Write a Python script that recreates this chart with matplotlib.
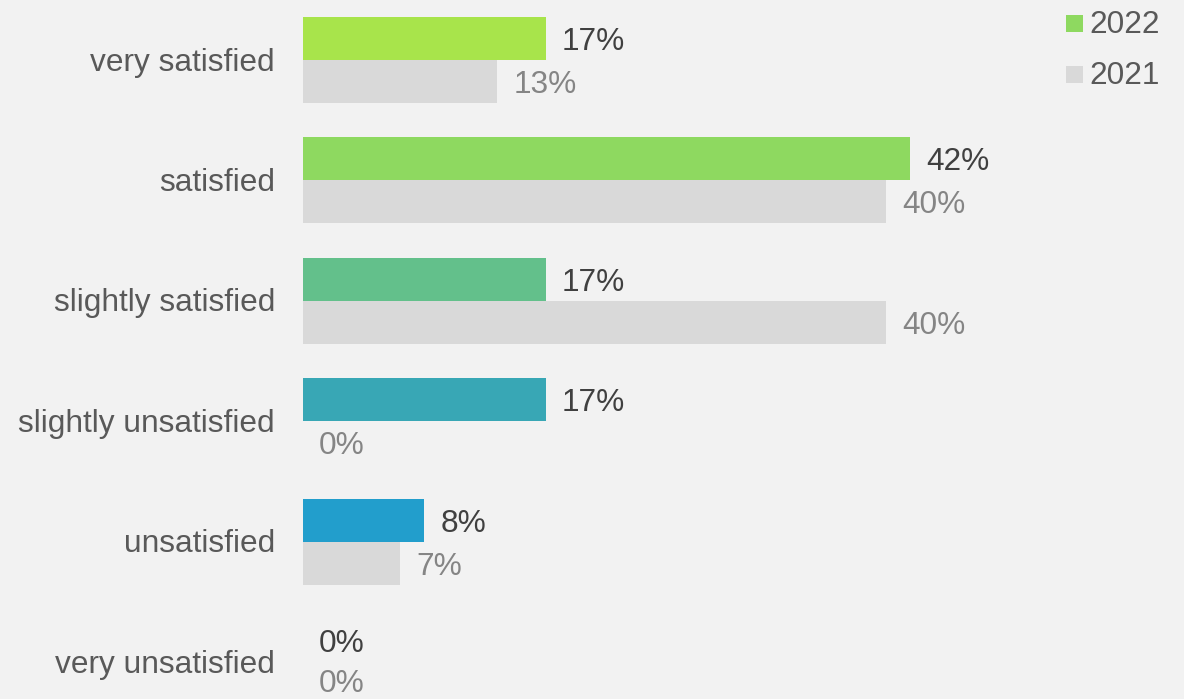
import matplotlib
matplotlib.use("Agg")
import matplotlib.pyplot as plt
from matplotlib.patches import Rectangle

plt.rcParams['font.family'] = ['Liberation Sans', 'DejaVu Sans']

categories = ["very satisfied", "satisfied", "slightly satisfied",
              "slightly unsatisfied", "unsatisfied", "very unsatisfied"]
share_2022 = [16.67, 41.67, 16.67, 16.67, 8.33, 0.0]
share_2021 = [13.33, 40.0, 40.0, 0.0, 6.67, 0.0]
colors_2022 = ["#A8E44B", "#8ED960", "#63C08B", "#38A7B5", "#229ECC", "#1F7FB8"]
color_2021 = "#D9D9D9"
legend_labels = ["2022", "2021"]
legend_colors = ["#8ED960", color_2021]

W, H = 1184, 699
fig = plt.figure(figsize=(W / 100, H / 100), dpi=100, facecolor="#F2F2F2")

left_px, width_px = 303, 874
px_per_unit = 14.57
ax = fig.add_axes([left_px / W, 0, width_px / W, 1])
ax.set_facecolor("none")

pitch = 120.4
ymax = (H - 60) / pitch
ax.set_xlim(0, width_px / px_per_unit)
ax.set_ylim(ymax, -60 / pitch)

bar_h = 43 / pitch
ys = list(range(len(categories)))
fs = 22.8
base_shift = 11.5 / pitch
# keep the lowest labels' descent inside the canvas
lowest_baseline = ymax - 7.5 / pitch

ax.barh([y - bar_h / 2 for y in ys], share_2022, height=bar_h,
        color=colors_2022, linewidth=0)
ax.barh([y + bar_h / 2 for y in ys], share_2021, height=bar_h,
        color=color_2021, linewidth=0)

offset = 16 / px_per_unit
for y, v in zip(ys, share_2022):
    ax.text(v + offset, y - bar_h / 2 + base_shift, f"{v:.0f}%",
            va="baseline", ha="left", fontsize=fs, color="#404040")
for y, v in zip(ys, share_2021):
    yb = min(y + bar_h / 2 + base_shift, lowest_baseline)
    ax.text(v + offset, yb, f"{v:.0f}%",
            va="baseline", ha="left", fontsize=fs, color="#858585",
            clip_on=False)

for y, c in zip(ys, categories):
    ax.text(-28 / px_per_unit, y + 10.5 / pitch, c, va="baseline", ha="right",
            fontsize=fs, color="#595959")

for s in ax.spines.values():
    s.set_visible(False)
ax.set_xticks([])
ax.set_yticks([])

# legend: square swatches with year labels, top right
for i, (lab, col) in enumerate(zip(legend_labels, legend_colors)):
    top = 15 + 51 * i
    fig.add_artist(Rectangle((1066 / W, 1 - (top + 17) / H), 17 / W, 17 / H,
                             transform=fig.transFigure, facecolor=col,
                             edgecolor="none"))
    fig.text(1089 / W, 1 - (top + 18) / H, lab, fontsize=fs, color="#595959",
             va="baseline", ha="left")

fig.savefig("out.png", dpi=100, facecolor=fig.get_facecolor())
